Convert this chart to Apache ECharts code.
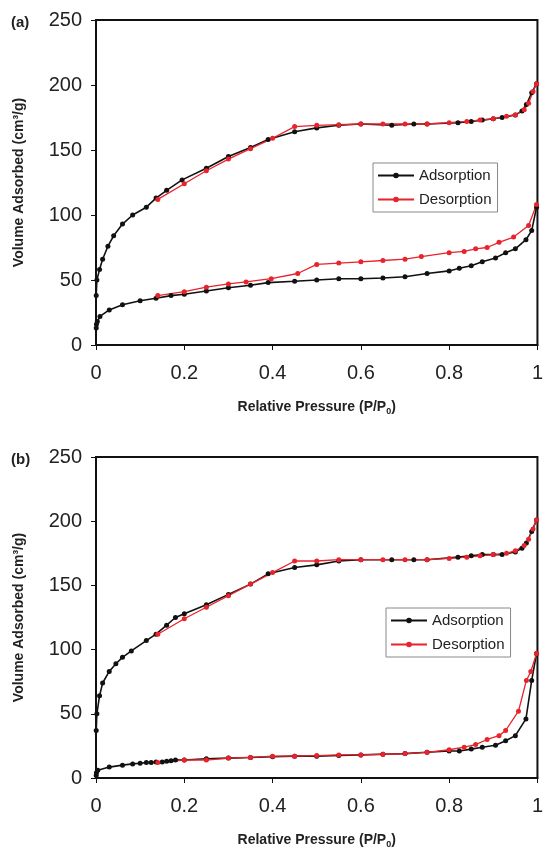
<!DOCTYPE html>
<html><head><meta charset="utf-8">
<script src="https://cdn.jsdelivr.net/npm/echarts@6/dist/echarts.min.js"></script>
<style>html,body{margin:0;padding:0;background:#fff}#c{width:546px;height:850px}</style>
</head><body><div id="c"></div>
<script>
// Panel (a)
const aUpAdsP = [0.0005,0.002,0.008,0.015,0.027,0.04,0.06,0.083,0.114,0.136,0.16,0.195,0.25,0.30,0.35,0.39,0.45,0.50,0.55,0.60,0.67,0.72,0.75,0.82,0.85,0.875,0.90,0.92,0.95,0.965,0.975,0.987,0.998];
const aUpAdsV = [38,50,58,66,76,84,93,100,106,113,119,127,136,145,152,158,164,167,169,170,169,170,170,171,172,173,174,175,177,180,185,194,201];
const aUpDesP = [0.998,0.99,0.98,0.97,0.95,0.93,0.90,0.87,0.84,0.80,0.75,0.70,0.65,0.60,0.55,0.50,0.45,0.40,0.35,0.30,0.25,0.20,0.14];
const aUpDesV = [201,195,186,181,177,176,174,173,172,171,170,170,170,170,169.5,169,168,159,151,143,134,124,112];
const aLoAdsP = [0.0005,0.001,0.003,0.009,0.03,0.06,0.1,0.136,0.17,0.2,0.25,0.3,0.35,0.39,0.45,0.5,0.55,0.6,0.65,0.7,0.75,0.8,0.823,0.85,0.875,0.905,0.928,0.95,0.974,0.987,0.998];
const aLoAdsV = [13,16,18,22,27,31,34,36,38,39,41.5,44,46,48,49,50,51,51,51.5,52.5,55,57,59,61,64,67,71,74,81,88,106];
const aLoDesP = [0.998,0.98,0.946,0.913,0.886,0.86,0.834,0.8,0.737,0.7,0.65,0.6,0.55,0.5,0.457,0.397,0.34,0.3,0.25,0.2,0.14];
const aLoDesV = [108,92,83,79,75,74,72,71,68,66,65,64,63,62,55,51,48.5,47,44.5,41,38];
// Panel (b)
const bUpAdsP = [0.0005,0.002,0.008,0.015,0.03,0.045,0.06,0.08,0.114,0.136,0.16,0.18,0.2,0.25,0.3,0.35,0.39,0.45,0.5,0.55,0.6,0.67,0.72,0.75,0.82,0.85,0.875,0.9,0.92,0.95,0.965,0.975,0.987,0.998];
const bUpAdsV = [37,50,64,74,83,89,94,99,107,112,119,125,128,135,143,151,159,164,166,169,170,170,170,170,172,173,174,174,174,176,179,183,192,201];
const bUpDesP = [0.998,0.99,0.98,0.97,0.95,0.93,0.90,0.87,0.84,0.80,0.75,0.70,0.65,0.60,0.55,0.50,0.45,0.40,0.35,0.30,0.25,0.20,0.14];
const bUpDesV = [201,194,186,181,177,175,174,173,172,171,170,170,170,170,170,169,169,160,151,142,133,124,112];
const bLoAdsP = [0.0005,0.001,0.004,0.03,0.06,0.083,0.1,0.114,0.125,0.136,0.15,0.16,0.17,0.18,0.2,0.25,0.3,0.35,0.4,0.45,0.5,0.55,0.6,0.65,0.7,0.75,0.8,0.823,0.85,0.875,0.905,0.928,0.95,0.974,0.987,0.998];
const bLoAdsV = [2,4,6,8.5,10,11,11.5,12,12,12.5,12.5,13,13.5,14,14,15,15.5,16,16.5,17,17,17.5,18,18.5,19,20,21,21,22.5,24,25.5,29,33,46,76,97];
const bLoDesP = [0.998,0.985,0.975,0.957,0.928,0.913,0.886,0.86,0.834,0.8,0.75,0.7,0.65,0.6,0.55,0.5,0.45,0.4,0.35,0.3,0.25,0.2,0.14];
const bLoDesV = [97,83,76,52,37,33,30,26,24,22,20,19,18.5,18,18,17.5,17,17,16,15.5,14,14,12];

const xTicks = [0,0.2,0.4,0.6,0.8,1];
const yTicks = [0,50,100,150,200,250];
const legendNames = ['Adsorption','Desorption'];
const panelLabels = ['(a)','(b)'];

const zip = (p,v) => p.map((x,i)=>[x,v[i]]);
const BLACK = '#111', RED = '#e8232b';
const font = 'Liberation Sans, Arial, sans-serif';

function mkSeries(name, p, v, idx, color, w) {
  return {name, type:'line', xAxisIndex:idx, yAxisIndex:idx, data: zip(p,v),
    symbol:'circle', symbolSize:5, showSymbol:true,
    lineStyle:{color, width:w}, itemStyle:{color}, emphasis:{disabled:true}, animation:false};
}
function mkX(idx){
  return {gridIndex:idx, type:'value', min:xTicks[0], max:xTicks[xTicks.length-1], interval:0.2,
    axisLine:{show:true, lineStyle:{color:'#111', width:2}},
    axisTick:{show:true, length:5, lineStyle:{color:'#111', width:1}},
    splitLine:{show:false},
    axisLabel:{fontSize:20, color:'#222', fontFamily:font, margin:18,
      formatter: v => String(Math.round(v*10)/10)},
    name:'Relative Pressure (P/P{s|0})', nameLocation:'middle', nameGap:54,
    nameTextStyle:{fontSize:14, fontWeight:'bold', color:'#222', fontFamily:font,
      rich:{s:{fontSize:9, fontWeight:'bold', color:'#222', verticalAlign:'bottom', padding:[8,0,0,0]}}}};
}
function mkY(idx){
  return {gridIndex:idx, type:'value', min:yTicks[0], max:yTicks[yTicks.length-1], interval:50,
    axisLine:{show:true, lineStyle:{color:'#111', width:2}},
    axisTick:{show:true, length:5, lineStyle:{color:'#111', width:1}},
    splitLine:{show:false},
    axisLabel:{fontSize:20, color:'#222', fontFamily:font, margin:14},
    name:'Volume Adsorbed (cm³/g)', nameLocation:'middle', nameGap:70, nameRotate:90,
    nameTextStyle:{fontSize:14, fontWeight:'bold', color:'#222', fontFamily:font}};
}
function mkLegend(idx, left, top){
  return {data:legendNames, orient:'vertical', left, top, itemWidth:36, itemHeight:7, itemGap:9,
    backgroundColor:'#fff', borderColor:'#888', borderWidth:1, padding:[5,6,5,4],
    textStyle:{fontSize:15, color:'#222', fontFamily:font}, selectedMode:false};
}

const chart = echarts.init(document.getElementById('c'), null, {renderer:'canvas'});
chart.setOption({
  animation:false,
  backgroundColor:'#fff',
  grid:[
    {left:96, top:20, width:446, height:325, show:true, borderColor:'#111', borderWidth:2, backgroundColor:'transparent'},
    {left:96, top:457, width:446, height:323, show:true, borderColor:'#111', borderWidth:2, backgroundColor:'transparent'}
  ],
  title:[
    {text:panelLabels[0], left:6, top:10, textStyle:{fontSize:15, fontWeight:'bold', color:'#222', fontFamily:font}},
    {text:panelLabels[1], left:6, top:447, textStyle:{fontSize:15, fontWeight:'bold', color:'#222', fontFamily:font}}
  ],
  legend:[mkLegend(0, 373, 163), mkLegend(1, 386, 608)],
  xAxis:[mkX(0), mkX(1)],
  yAxis:[mkY(0), mkY(1)],
  series:[
    mkSeries(legendNames[0], aUpAdsP, aUpAdsV, 0, BLACK, 1.6),
    mkSeries(legendNames[0], aLoAdsP, aLoAdsV, 0, BLACK, 1.6),
    mkSeries(legendNames[1], aUpDesP, aUpDesV, 0, RED, 1.3),
    mkSeries(legendNames[1], aLoDesP, aLoDesV, 0, RED, 1.3),
    mkSeries(legendNames[0], bUpAdsP, bUpAdsV, 1, BLACK, 1.6),
    mkSeries(legendNames[0], bLoAdsP, bLoAdsV, 1, BLACK, 1.6),
    mkSeries(legendNames[1], bUpDesP, bUpDesV, 1, RED, 1.3),
    mkSeries(legendNames[1], bLoDesP, bLoDesV, 1, RED, 1.3)
  ]
});
</script></body></html>
